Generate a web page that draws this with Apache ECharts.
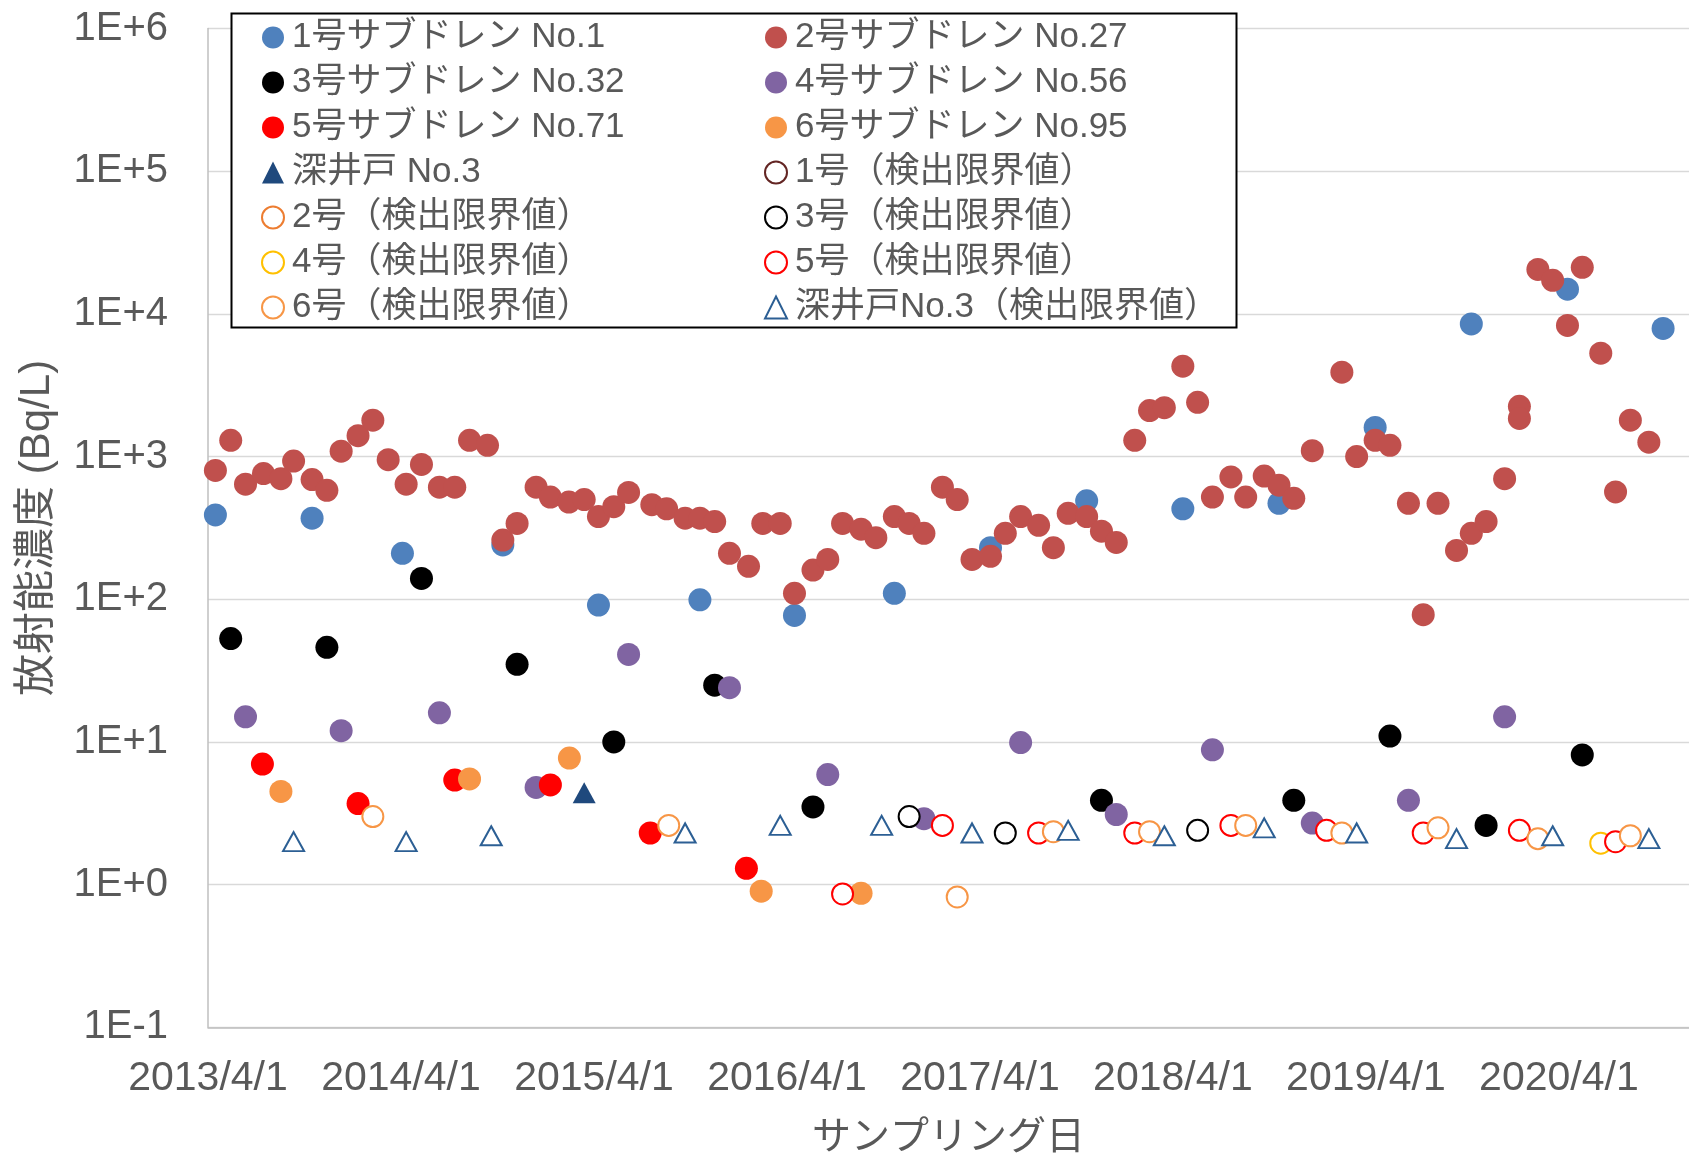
<!DOCTYPE html>
<html>
<head>
<meta charset="utf-8">
<script src="https://cdn.jsdelivr.net/npm/echarts@6/dist/echarts.min.js"></script>
<style>
    html, body { margin: 0; padding: 0; background: #ffffff; }
    #chart { width: 1689px; height: 1156px; }
</style>
</head>
<body>
<div id="chart"></div>
<script>
// サブドレン No.1
const no1Dates = ['2013/4/15', '2013/10/15', '2014/4/4', '2014/10/11', '2015/4/10', '2015/10/19', '2016/4/15', '2016/10/21',
    '2017/4/21', '2017/10/20', '2018/4/20', '2018/10/19', '2019/4/19', '2019/10/18', '2020/4/17', '2020/10/15']
const no1Values = [390, 370, 210, 240, 91, 99, 77, 110, 230, 490, 430, 470, 1600, 8500, 14900, 7900]

// サブドレン No.27
const no27Dates = ['2013/4/15', '2013/5/14', '2013/6/11', '2013/7/15', '2013/8/17', '2013/9/10', '2013/10/15', '2013/11/12',
    '2013/12/9', '2014/1/10', '2014/2/7', '2014/3/8', '2014/4/11', '2014/5/10', '2014/6/13', '2014/7/12', '2014/8/9',
    '2014/9/12', '2014/10/11', '2014/11/7', '2014/12/13', '2015/1/9', '2015/2/13', '2015/3/14', '2015/4/10', '2015/5/9',
    '2015/6/6', '2015/7/20', '2015/8/17', '2015/9/21', '2015/10/19', '2015/11/16', '2015/12/14', '2016/1/19', '2016/2/15',
    '2016/3/19', '2016/4/15', '2016/5/20', '2016/6/17', '2016/7/15', '2016/8/19', '2016/9/16', '2016/10/21', '2016/11/18',
    '2016/12/16', '2017/1/20', '2017/2/17', '2017/3/17', '2017/4/21', '2017/5/19', '2017/6/17', '2017/7/21', '2017/8/18',
    '2017/9/15', '2017/10/20', '2017/11/17', '2017/12/15', '2018/1/19', '2018/2/16', '2018/3/16', '2018/4/20', '2018/5/18',
    '2018/6/15', '2018/7/20', '2018/8/17', '2018/9/21', '2018/10/19', '2018/11/16', '2018/12/21', '2019/2/15', '2019/3/15',
    '2019/4/19', '2019/5/17', '2019/6/21', '2019/7/19', '2019/8/16', '2019/9/20', '2019/10/18', '2019/11/15', '2019/12/20',
    '2020/1/17', '2020/1/17', '2020/2/21', '2020/3/20', '2020/4/17', '2020/5/15', '2020/6/19', '2020/7/17', '2020/8/14',
    '2020/9/18']
const no27Values = [800, 1300, 640, 760, 700, 930, 690, 580, 1090, 1400,
    1800, 950, 640, 880, 610, 610, 1300, 1200, 260, 340,
    610, 520, 480, 500, 380, 445, 560, 460, 430, 370,
    370, 350, 210, 170, 340, 340, 110, 160, 190, 340,
    310, 270, 380, 340, 290, 610, 500, 190, 200, 290,
    380, 330, 230, 400, 380, 300, 250, 1300, 2100, 2200,
    4300, 2400, 520, 720, 520, 730, 630, 510, 1100, 3900,
    1000, 1300, 1200, 470, 78, 470, 220, 290, 350, 700,
    2250, 1850, 20500, 17200, 8300, 21200, 5300, 565, 1800, 1260]

// サブドレン No.32
const no32Dates = ['2013/5/14', '2013/11/12', '2014/5/10', '2014/11/7', '2015/5/9', '2015/11/16', '2016/5/20', '2017/11/17',
    '2018/11/16', '2019/5/17', '2019/11/15', '2020/5/15']
const no32Values = [53, 46, 140, 35, 10, 25, 3.5, 3.9, 3.9, 11, 2.6, 8.1]

// サブドレン No.56
const no56Dates = ['2013/6/11', '2013/12/9', '2014/6/13', '2014/12/13', '2015/6/6', '2015/12/14', '2016/6/17', '2016/12/16',
    '2017/6/17', '2017/12/15', '2018/6/15', '2018/12/21', '2019/6/21', '2019/12/20']
const no56Values = [15, 12, 16, 4.8, 41, 24, 5.9, 2.9, 9.9, 3.1, 8.8, 2.7, 3.9, 15]

// サブドレン No.71
const no71Dates = ['2013/7/13', '2014/1/10', '2014/7/12', '2015/1/9', '2015/7/17', '2016/1/15']
const no71Values = [7.0, 3.7, 5.4, 5.0, 2.3, 1.3]

// サブドレン No.95
const no95Dates = ['2013/8/17', '2014/8/9', '2015/2/14', '2016/2/12', '2016/8/19']
const no95Values = [4.5, 5.5, 7.7, 0.90, 0.87]

// 深井戸 No.3
const deep3Dates = ['2015/3/14']
const deep3Values = [4.4]

// 検出限界値
const dl1Dates = []
const dl1Values = []
const dl2Dates = []
const dl2Values = []
const dl3Dates = ['2016/11/18', '2017/5/19', '2018/5/18']
const dl3Values = [3.0, 2.3, 2.4]
const dl4Dates = ['2020/6/19']
const dl4Values = [1.95]
const dl5Dates = ['2016/7/15', '2017/1/20', '2017/7/21', '2018/1/19', '2018/7/20', '2019/1/17', '2019/7/19', '2020/1/17', '2020/7/17']
const dl5Values = [0.86, 2.6, 2.3, 2.3, 2.6, 2.4, 2.3, 2.4, 2.0]
const dl6Dates = ['2014/2/7', '2015/8/21', '2017/2/17', '2017/8/18', '2018/2/16', '2018/8/17', '2019/2/15', '2019/8/16',
    '2020/2/21', '2020/8/14']
const dl6Values = [3.0, 2.6, 0.82, 2.35, 2.35, 2.6, 2.3, 2.5, 2.1, 2.2]
const dlDeep3Dates = ['2013/9/10', '2014/4/11', '2014/9/19', '2015/9/21', '2016/3/19', '2016/9/27', '2017/3/17', '2017/9/15',
    '2018/3/16', '2018/9/21', '2019/3/15', '2019/9/20', '2020/3/20', '2020/9/18']
const dlDeep3Values = [2.0, 2.0, 2.2, 2.3, 2.6, 2.6, 2.3, 2.4, 2.2, 2.5, 2.3, 2.1, 2.2, 2.1]

const FONT = "'Liberation Sans', 'Noto Sans CJK JP', sans-serif"
const TEXT_COLOR = '#595959'
const BASE = Date.UTC(2013, 3, 1)
const YEAR_DAYS = 365.25

// x is counted in days from 2013/4/1
const toDays = (s) => {
    const [y, m, d] = s.split('/').map(Number)
    return (Date.UTC(y, m - 1, d) - BASE) / 86400000
}

const points = (dates, values) => dates.map((d, i) => [toDays(d), values[i]])

const seriesDefs = [
    { name: '1号サブドレン No.1', dates: no1Dates, values: no1Values, symbol: 'circle', color: '#4f81bd' },
    { name: '2号サブドレン No.27', dates: no27Dates, values: no27Values, symbol: 'circle', color: '#c0504d' },
    { name: '3号サブドレン No.32', dates: no32Dates, values: no32Values, symbol: 'circle', color: '#000000' },
    { name: '4号サブドレン No.56', dates: no56Dates, values: no56Values, symbol: 'circle', color: '#8064a2' },
    { name: '5号サブドレン No.71', dates: no71Dates, values: no71Values, symbol: 'circle', color: '#ff0000' },
    { name: '6号サブドレン No.95', dates: no95Dates, values: no95Values, symbol: 'circle', color: '#f79646' },
    { name: '深井戸 No.3', dates: deep3Dates, values: deep3Values, symbol: 'triangle', color: '#1f497d' },
    { name: '1号（検出限界値）', dates: dl1Dates, values: dl1Values, symbol: 'circle', color: '#632523', open: true },
    { name: '2号（検出限界値）', dates: dl2Dates, values: dl2Values, symbol: 'circle', color: '#ed7d31', open: true },
    { name: '3号（検出限界値）', dates: dl3Dates, values: dl3Values, symbol: 'circle', color: '#000000', open: true },
    { name: '4号（検出限界値）', dates: dl4Dates, values: dl4Values, symbol: 'circle', color: '#ffc000', open: true },
    { name: '5号（検出限界値）', dates: dl5Dates, values: dl5Values, symbol: 'circle', color: '#ff0000', open: true },
    { name: '6号（検出限界値）', dates: dl6Dates, values: dl6Values, symbol: 'circle', color: '#f79646', open: true },
    { name: '深井戸No.3（検出限界値）', dates: dlDeep3Dates, values: dlDeep3Values, symbol: 'triangle', color: '#2c5f94', open: true }
]

const markerSize = (s) => {
    if (s.symbol === 'triangle') return s.open ? [21, 19] : [23, 21]
    return s.open ? 21 : 23
}

const markerStyle = (s) => s.open
    ? { color: '#ffffff', borderColor: s.color, borderWidth: 2, opacity: 1 }
    : { color: s.color, opacity: 1 }

const legendText = {
    fontSize: 35,
    lineHeight: 45,
    color: TEXT_COLOR,
    fontFamily: FONT,
    padding: [0, 0, 0, 3]
}

const makeLegend = (defs, left) => ({
    orient: 'vertical',
    left: left,
    top: 15,
    padding: 0,
    itemGap: 0,
    itemWidth: 22,
    itemHeight: 22,
    selectedMode: false,
    z: 5,
    textStyle: legendText,
    data: defs.map(s => ({
        name: s.name,
        icon: s.symbol,
        itemStyle: markerStyle(s)
    }))
})

const chart = echarts.init(document.getElementById('chart'))

chart.setOption({
    animation: false,
    backgroundColor: '#ffffff',
    grid: {
        left: 208,
        right: 0,
        top: 28.5,
        bottom: 128.7,
        outerBoundsMode: 'none'
    },
    graphic: [
        {
            type: 'rect',
            z: 3,
            silent: true,
            shape: { x: 231.5, y: 13.5, width: 1005, height: 314 },
            style: { fill: '#ffffff', stroke: '#000000', lineWidth: 2 }
        }
    ],
    legend: [
        makeLegend(seriesDefs.filter((s, i) => i % 2 === 0), 261),
        makeLegend(seriesDefs.filter((s, i) => i % 2 === 1), 764)
    ],
    xAxis: {
        type: 'value',
        min: 0,
        max: 2803,
        interval: YEAR_DAYS,
        name: 'サンプリング日',
        nameLocation: 'middle',
        nameGap: 91,
        nameTextStyle: { fontSize: 39, color: TEXT_COLOR, fontFamily: FONT },
        axisLine: { onZero: false, lineStyle: { color: '#bfbfbf', width: 1.5 } },
        axisTick: { show: false },
        splitLine: { show: false },
        axisLabel: {
            showMaxLabel: false,
            fontSize: 41,
            margin: 31,
            color: TEXT_COLOR,
            fontFamily: FONT,
            formatter: v => `${2013 + Math.round(v / YEAR_DAYS)}/4/1`
        }
    },
    yAxis: {
        type: 'log',
        logBase: 10,
        min: 0.1,
        max: 1e6,
        splitNumber: 7,
        name: '放射能濃度 (Bq/L)',
        nameLocation: 'middle',
        nameGap: 150,
        nameTextStyle: { fontSize: 42, color: TEXT_COLOR, fontFamily: FONT },
        axisLine: { show: true, lineStyle: { color: '#bfbfbf', width: 1.5 } },
        axisTick: { show: false },
        splitLine: { lineStyle: { color: '#d9d9d9', width: 1.3 } },
        axisLabel: {
            fontSize: 40,
            margin: 40,
            color: TEXT_COLOR,
            fontFamily: FONT,
            formatter: v => {
                const e = Math.round(Math.log10(v))
                return '1E' + (e < 0 ? '-' : '+') + Math.abs(e)
            }
        }
    },
    series: seriesDefs.map(s => ({
        name: s.name,
        type: 'scatter',
        data: points(s.dates, s.values),
        symbol: s.symbol,
        symbolSize: markerSize(s),
        itemStyle: markerStyle(s),
        emphasis: { disabled: true },
        silent: true
    }))
})
</script>
</body>
</html>
